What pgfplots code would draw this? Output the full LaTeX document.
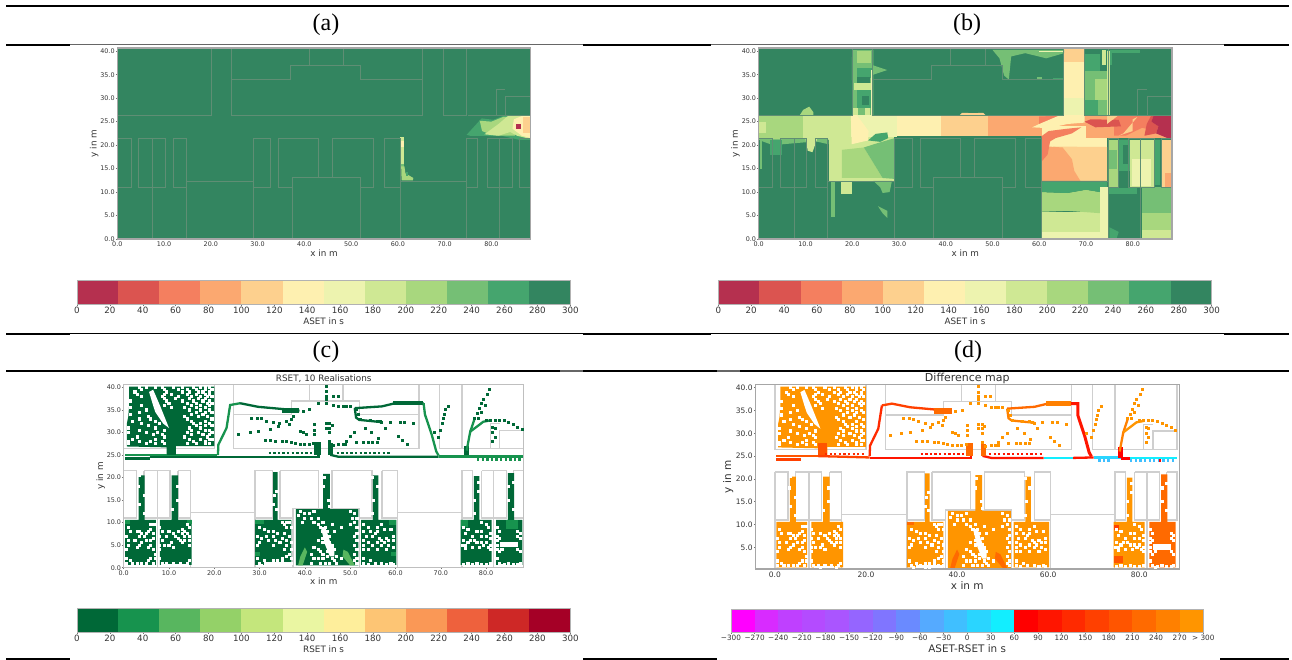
\documentclass[border=0pt]{standalone}
\usepackage{pgfplots}
\pgfplotsset{compat=1.18}
\usepackage{fontspec}
\setmainfont{DejaVu Sans}
\newfontfamily\timesf{Liberation Serif}
\definecolor{A1}{HTML}{B5304F}\definecolor{A2}{HTML}{DB5450}\definecolor{A3}{HTML}{F47F5F}\definecolor{A4}{HTML}{FBA870}
\definecolor{A5}{HTML}{FDD08E}\definecolor{A6}{HTML}{FEF0B0}\definecolor{A7}{HTML}{EDF3AF}\definecolor{A8}{HTML}{CFE894}
\definecolor{A9}{HTML}{A8D77E}\definecolor{A10}{HTML}{75BF75}\definecolor{A11}{HTML}{45A56E}\definecolor{A12}{HTML}{338560}
\definecolor{C1}{HTML}{006837}\definecolor{C2}{HTML}{17934E}\definecolor{C3}{HTML}{58B65F}\definecolor{C4}{HTML}{94D168}
\definecolor{C5}{HTML}{C4E67C}\definecolor{C6}{HTML}{EAF6A2}\definecolor{C7}{HTML}{FEEE9B}\definecolor{C8}{HTML}{FDC574}
\definecolor{C9}{HTML}{FA9856}\definecolor{C10}{HTML}{EE613D}\definecolor{C11}{HTML}{CE2826}\definecolor{C12}{HTML}{A50026}
\definecolor{D1}{HTML}{FF00FF}\definecolor{D2}{HTML}{D82BFF}\definecolor{D3}{HTML}{BF40FF}\definecolor{D4}{HTML}{B44BFF}
\definecolor{D5}{HTML}{AA55FF}\definecolor{D6}{HTML}{9565FF}\definecolor{D7}{HTML}{8075FF}\definecolor{D8}{HTML}{6A8AFF}
\definecolor{D9}{HTML}{55AAFF}\definecolor{D10}{HTML}{40BFFF}\definecolor{D11}{HTML}{2AD5FF}\definecolor{D12}{HTML}{12EEFF}
\definecolor{E1}{HTML}{FF0000}\definecolor{E2}{HTML}{FF1500}\definecolor{E3}{HTML}{FF2A00}\definecolor{E4}{HTML}{FF4000}
\definecolor{E5}{HTML}{FF5500}\definecolor{E6}{HTML}{FF6A00}\definecolor{E7}{HTML}{FF8000}\definecolor{E8}{HTML}{FF9500}
\definecolor{wallab}{HTML}{5F8E74}\definecolor{wallcd}{HTML}{CFCFCF}\definecolor{txt}{HTML}{333333}
\newcommand\Poly[2]{\addplot[fill=#1,draw=none,forget plot] coordinates {#2} --cycle;}
\newcommand\Rc[5]{\addplot[fill=#1,draw=none,forget plot] coordinates {(#2,#3)(#4,#3)(#4,#5)(#2,#5)} --cycle;}
\newcommand\Ln[3][2.3pt]{\addplot[draw=#2,line width=#1,no marks,forget plot] coordinates {#3};}
\newcommand\Ds[2]{\addplot[draw=#1,line width=2.3pt,dash pattern=on 2.3pt off 2.3pt,no marks,forget plot] coordinates {#2};}
\newcommand\Pts[2]{\edef\tmpplot{\noexpand\addplot[\unexpanded{#1}] coordinates {#2};}\tmpplot}
\def\walls{(0,0)(0,21.5)(nan,nan)(0,21.5)(2.9,21.5)(2.9,11)(0,11)(nan,nan)(4.5,21.5)(4.5,11)(10.2,11)(10.2,21.5)(4.5,21.5)(nan,nan)(7.5,21.5)(7.5,0)(nan,nan)
(12,21.5)(12,11)(14.7,11)(nan,nan)(12,21.5)(14.7,21.5)(14.7,0)(nan,nan)(14.7,12.2)(29,12.2)(nan,nan)(29,0)(29,21.5)(32.8,21.5)(32.8,11)(29,11)(nan,nan)
(34.5,21.5)(34.5,11)(37.4,11)(nan,nan)(37.4,0)(37.4,13.2)(52,13.2)(52,0)(nan,nan)(34.5,21.5)(43,21.5)(43,13.2)(nan,nan)(46,13.2)(46,21.5)(54.8,21.5)(54.8,11)(52,11)(nan,nan)
(57,21.5)(57,11)(60.5,11)(nan,nan)(57,21.5)(60.5,21.5)(60.5,0)(nan,nan)(60.5,12.2)(74.7,12.2)(nan,nan)(74.7,0)(74.7,21.5)(77,21.5)(77,11)(74.7,11)(nan,nan)
(79,21.5)(79,11)(84.5,11)(84.5,21.5)(79,21.5)(nan,nan)(81.7,21.5)(81.7,0)(nan,nan)(86,21.5)(86,11)(88.3,11)(88.3,21.5)(86,21.5)(nan,nan)
(0,40.7)(0,26.4)(20,26.4)(20,40.7)(nan,nan)(24.3,40.7)(24.3,26.4)(65.2,26.4)(65.2,40.7)(nan,nan)(24.3,34)(37,34)(37,37)(52,37)(52,34)(65.2,34)(nan,nan)
(41,37)(41,40.7)(nan,nan)(48.4,37)(48.4,40.7)(nan,nan)(69.7,40.7)(69.7,26.4)(74.7,26.4)(74.7,40.7)(nan,nan)(75,26.4)(88.3,26.4)(88.3,40.7)(nan,nan)
(81,26.4)(81,32)(83,32)(nan,nan)(83,26.4)(83,30.5)(88.3,30.5)}
% occupied upper rooms of the RSET map: cells that stayed empty
\def\holesU{(3.5,40)(5,40)(7,40)(8.5,40)(11,40)(13,40)(15.5,40)(17,40)(18,40)(19,40)(4,39.5)(9,39.5)(12,39.5)(14,39.5)(16,39.5)(18,39.5)(19.5,39.5)
(2.5,39)(9.5,39)(13,39)(14.5,39)(16.5,39)(17.5,39)(19,39)(3,38.5)(9,38.5)(10.5,38.5)(14,38.5)(16,38.5)(18,38.5)(19,38.5)
(4,38)(8.5,38)(12,38)(15,38)(17,38)(18.5,38)(19.5,38)(9,37.5)(11.5,37.5)(14.5,37.5)(16.5,37.5)(18,37.5)(1.5,37)(9.5,37)(13,37)(15.5,37)(17.5,37)(19,37)
(10,36.5)(14,36.5)(16,36.5)(18.5,36.5)(19.5,36.5)(4,36)(9,36)(15,36)(17,36)(19,36)(1.5,35.5)(10.5,35.5)(13.5,35.5)(16,35.5)(18,35.5)
(5,35)(14.5,35)(17,35)(19,35)(3.5,34.5)(16,34.5)(18,34.5)(19.5,34.5)(1.5,34)(15,34)(17.5,34)(5.5,33.5)(13.5,33.5)(16.5,33.5)(18.5,33.5)
(3.5,33)(6,33)(14,33)(19.5,33)(2,32.5)(7,32.5)(15,32.5)(18,32.5)(4,32)(8,32)(15.5,32)(17,32)(19,32)(5.5,31.5)(16,31.5)(18,31.5)(19.5,31.5)
(1,31)(7,31)(14.5,31)(17,31)(3.5,30.5)(9,30.5)(15,30.5)(18,30.5)(19,30.5)(1,30)(5,30)(7.5,30)(14,30)(16.5,30)(19.5,30)
(6.5,29.5)(8.5,29.5)(15,29.5)(17.5,29.5)(19,29.5)(3,29)(9,29)(13.5,29)(18.5,29)(2,28.5)(7,28.5)(14.5,28.5)(17,28.5)(19,28.5)(19.5,28.5)
(1,28)(3.5,28)(6,28)(8.5,28)(15.5,28)(18,28)(1,27.5)(5,27.5)(7,27.5)(9,27.5)(14,27.5)(16,27.5)(18,27.5)(19,27.5)}
\def\holesL{(6,9.5)(6.5,9.5)(7,9.5)(1,9)(1.5,8)(3,8)(3.5,8)(4,7.5)(3.5,7)(4.5,7)(5,7.5)(5.5,8)(6,8.5)(6.5,7.5)(6.5,6.5)(6,6)(5,6)(4,5.5)(2.5,6)(1,6)(1,5)(0.5,7)(0.5,4)(6,5)(5.5,4.5)(6.5,4)(7,3)(7,2)(6,2)(5.5,1.5)(6.5,1)(5,1)(4,1)(3,1)(2,1)(1.5,1.5)(0.5,2)(0.5,1)(3.5,5)(3,4.5)
(8,9)(8.5,8)(8,7)(8.5,6)(9.5,7)(10,8)(9,5)(8,5)(8,4)(11,7.5)(11.5,7)(12,6.5)(12.5,6)(13,5.5)(13.5,6)(13.5,7)(13.5,8)(14,7.5)(13,7.5)(14.5,7)(14.5,6)(14.5,5)(12,8)(13,8.5)(14.5,9)(14,9.5)(10,5)(10.5,5.5)(11,4.5)(8,2)(8.5,1)(9.5,1)(11,1)(12.5,1)(14,1)(14.5,1.5)(13.5,.5)(10,.5)
(35,10)(36,10)(36.5,10)(35.5,9.5)(36,9)(37,9)(30,9)(31,8.5)(32,8)(33,8)(31.5,7)(33,7)(34,7.5)(35.5,7.5)(36.5,7)(29.5,7)(30.5,6.5)(32,6)(33.5,6)(34.5,5.5)(33,5)(35,6.5)(36,6)(37,5.5)(36,5)(35.5,4)(37,4)(36.5,3)(36,2.5)(37,2)(29.5,5)(30,5.5)(29.5,2)(31,1.5)(33,1.5)(34,1.5)(35,1.5)(36,1)(32,1)(30,1)(34,.5)(33,.5)(30.5,.5)(37,1)(35,2)
(39,12.5)(40,12)(41,12)(42,12.5)(40,11)(41.5,11)(42,10)(39.5,10)(43,11)(43,9.5)(43.5,9)(44,10)(44.5,9)(44,8)(45,8)(45.5,7)(44.5,7)(44,6.5)(44,5.5)(45,6)(45.5,5.5)(46,5)(45,5)(46,4.5)(46.5,4)(45.5,4)(45,3.5)(43,4)(43.5,3.5)(44,3)(44,2)(45,2.5)(46,2)(46.5,1.5)(47,2.5)(43,2)(43.5,1)(44.5,1)(45.5,1)(47,1)(48,2)(43,6)(42,4.5)(41.5,3)(42,2)(41.5,1)(50,12.5)(51,12)(51.5,11)(50.5,11)(51,10)(51.5,9)(50,9.5)(48,9)(51.5,7.5)(51,7)(51.5,6)(51,5)(51.5,4)(51,3)(51.5,2)(51,1.5)(51.5,1)(46,9.5)(46.5,8)(38.5,11.5)
(53,9.5)(54,9)(56,9)(57,9.5)(53,8)(54.5,8)(55.5,7.5)(56,8)(57.5,8.5)(59,8.5)(53.5,7)(55,7)(56.5,6.5)(57,6)(58,6.5)(58.5,6)(57.5,5.5)(56,5.5)(57,5)(58.5,5)(53,6)(54,5.5)(53,5)(55,5)(59.5,7)(59.5,6)(59.5,4.5)(53,4)(54,4)(56,4)(58,4)(53,2)(53,1)(54,.7)(55.5,1)(57,1)(58,.7)(59,1)(59.5,.7)(54.5,1.5)
(79,10)(80,9.5)(80.5,9)(75,9)(76,8.5)(75.5,7.5)(78,8)(79,8)(81,7.5)(77,7)(79,7)(80,7)(81,6.5)(75,6)(76,5.5)(76.5,6)(77.5,6)(78,5.5)(79,5.5)(79.5,5)(80,5.5)(80.5,4.5)(81,5)(78.5,4.5)(75.5,5)(74.8,5)(76,1)(75,.7)(77,.7)(78,1)(79,.7)(80,.7)(81,1)(75.5,4.3)(81,4)(77,4.5)
(82.5,9)(83,8)(87,8)(87.5,7.5)(87,7)(87.5,6.5)(82.5,7)(82.5,6)(83,6.5)(82.5,5)(82.5,4)(83,3.5)(83.5,4)(87,4)(87.5,3.5)(87.5,1)(87,.7)(83,1)(83.5,.5)(85,1)(86,.7)(82.5,2)(84,.7)
(3.5,14)(4.5,12)(4.5,16)(3.3,18)(3.5,20.5)(10.7,13)(11.8,15)(11.8,18)(33.8,17)(33.2,16)(33,14)(33.8,13)(44,18)(44.3,20)(45.3,15)(45.5,13.5)(55,12)(55.2,15)(56,18)(55,20)(77.5,12)(77.5,15)(78.3,17)(78.3,19)(85,18)(85,15)(86,19)(86,13)}
% single occupied cells in the hall and the right-hand rooms
\def\cellsS{(28.3,33.2)(29.5,33.2)(30.5,33)(31.5,32.5)(33,32.2)(34.5,32)(36,32.4)(37,32.8)(37.5,33.5)(25.3,29.5)(27.9,29.9)(29.7,30.2)(32.3,30.6)(34.1,31.3)(36.7,31.8)
(31.2,28.2)(32.5,28.2)(33.5,28.1)(35,28)(36,27.9)(37,27.7)(38,27.5)(39,27.4)(40,27.3)(41,27.3)(42,27.5)(39,30.2)(39.7,29.9)(40.4,29.5)(39.7,34.7)(41.1,35)(43,36.5)(44.8,36.5)(46.3,36)(47.5,35.7)(48.5,35.7)(49.2,35.7)(50,35.7)
(44.7,40.2)(44.7,39)(44.7,38)(44.7,37.3)(46.3,38.1)(47.4,38)(42.2,31.7)(42.2,30.5)(42.2,29.5)(45.5,32)(45.5,31)(45.5,30)(46,31.5)(44.8,32)(44.8,31)(45.5,28)(48.5,27.3)(49.2,28)(50,29.1)(51,30)(46.3,27.2)(47.5,27.3)(49,27.4)(51.4,27.8)(53,27.8)(54,27.8)(55,27.8)(56,27.8)
(52.2,32.8)(54.4,32.6)(56,32.5)(56.6,32.4)(57,32.2)(58.8,32.3)(61,32.3)(62,32.3)(64,31.9)(51.4,35)(51.8,34)(53.3,31)(54.7,29.9)(56.2,28.7)(57.7,31)(60.6,29.1)(61.5,28.3)(62.6,27.3)
(68.5,30)(69.5,29)(70,30.5)(70.3,32)(70.6,33)(70.8,34)(71,35)(71.7,35.8)(77.5,33.2)(78,34.2)(78.5,35.3)(79,36.5)(79.5,37.4)(80.2,38.5)(80.7,39.5)(78.3,33.2)(79,34.5)(79.8,36)
(80,32.7)(81,32.7)(82,32.7)(83,32.7)(84,32.6)(85,32.2)(86,31.7)(87,31.2)(88,30.6)(81.5,31.2)(81.5,30)(82,29)(81.5,28)(82,31)}
% shared occupied rooms of (c) and (d): #1 main colour, #2 room 7
\newcommand\CDmain[2]{%
\Pts{draw=wallcd,line width=1.3pt,no marks,forget plot}{\walls}
\Poly{#1}{(1.2,40.2)(20,40.2)(20,27)(11.5,27)(11.5,25)(9.5,25)(9.5,26.7)(0.7,26.9)(0.7,32)(1,33.5)(1.2,36)}
\Poly{white}{(5.6,39)(6.5,39.5)(8,36)(8.8,34)(10,31)(8.7,32)(7,34.5)(6.5,36)}
\Poly{#1}{(0.3,.6)(7.1,.6)(7.1,10.6)(4.6,10.6)(4.6,20.5)(3.3,20.5)(3.3,10.6)(0.3,10.6)}
\Poly{#1}{(8,.6)(15,.6)(15,10.6)(12,10.6)(12,20.5)(10.6,20.5)(10.6,10.6)(8,10.6)}
\Poly{#1}{(29,.6)(37,.6)(37,10.6)(34,10.6)(34,21.2)(33,21.2)(33,10.6)(29,10.6)}
\Poly{#1}{(38,.5)(51.8,.5)(51.8,13)(45.5,13)(45.5,20.8)(44,20.8)(44,13)(38,13)}
\Poly{#1}{(52.4,.6)(60.2,.6)(60.2,10.6)(56.2,10.6)(56.2,20.5)(55,20.5)(55,10.6)(52.4,10.6)}
\Poly{#1}{(74.4,.6)(81.2,.6)(81.2,10.6)(78.5,10.6)(78.5,20.3)(77.3,20.3)(77.3,10.6)(74.4,10.6)}
\Poly{#2}{(82.2,.6)(88,.6)(88,10.6)(86.2,10.6)(86.2,21)(84.8,21)(84.8,10.6)(82.2,10.6)}
\Rc{white}{31}{.4}{37}{1.2}
\Rc{white}{83}{4.5}{87}{5.8}
\Rc{white}{8.5}{.4}{13}{.9}
\Poly{white}{(43.5,9)(44.5,9)(45.5,6)(46.5,4)(46.5,2.5)(45.5,2.5)(44.5,5)(44,7)}
\Pts{only marks,mark=square*,mark size=1.05pt,mark options={draw=white,fill=white,line width=0pt},forget plot}{\holesU}
\Pts{only marks,mark=square*,mark size=1.05pt,mark options={draw=white,fill=white,line width=0pt},forget plot}{\holesL}
\Pts{only marks,mark=square*,mark size=1pt,mark options={draw=#1,fill=#1,line width=0pt},forget plot}{\cellsS}
}
\begin{document}
\begin{tikzpicture}[x=1pt,y=1pt]
\useasboundingbox (0,0) rectangle (1292,660);
\pgfplotsset{
 every axis title shift=0pt,
 every axis/.append style={unbounded coords=jump,axis on top,scale only axis,anchor=south west,clip=true,
  tick align=outside,xtick pos=bottom,ytick pos=left,/pgf/number format/assume math mode=true,
  every tick/.style={draw=black!55,line width=.5pt},major tick length=1.5pt,
  tick label style={text=txt,inner sep=1pt}},
 heat/.style={axis line style={draw=#1,line width=1.2pt},xmin=0,ymin=0,ymax=40.7,
  xtick={0,10,...,80},xticklabels={0.0,10.0,20.0,30.0,40.0,50.0,60.0,70.0,80.0},
  ytick={0,5,...,40},yticklabels={0.0,5.0,10.0,15.0,20.0,25.0,30.0,35.0,40.0},
  tick label style={font=\fontsize{6.4}{7}\selectfont},
  xlabel={x in m},ylabel={y in m},label style={font=\fontsize{8.8}{10}\selectfont,text=txt}},
 cbar/.style={xmin=#1,ymin=0,ymax=1,ytick=\empty,axis line style={draw=black!30,line width=.8pt},
  tick label style={font=\fontsize{8.7}{10}\selectfont},xlabel style={font=\fontsize{8.8}{10}\selectfont,text=txt,at={(axis description cs:0.5,-0.7)},anchor=center}}
}
% ---- rules
\foreach \xa/\xb/\yy/\ww/\cc in {6/1289/654/2/black,6/70/615.4/2/black,70/583/615.4/1/black!60,583/711/615.4/2/black,711/1224/615.4/1/black!60,1224/1289/615.4/2/black,
 6/70/326/2/black,70/583/326/1/black,583/711/326/2/black,711/1224/326/1/black,1224/1289/326/2/black,6/560/288.5/2/black,560/583/288.5/2/black!60,583/717/288.5/2/black,717/740/288.5/2/black!60,740/1289/288.5/2/black,
 6/70/1/1.2/black,583/717/1/1.2/black,1220/1289/1/1.2/black}
 {\draw[\cc,line width=\ww pt] (\xa,\yy)--(\xb,\yy);}
\node[font=\timesf\fontsize{24}{26}\selectfont] at (326,635) {(a)};
\node[font=\timesf\fontsize{24}{26}\selectfont] at (967,635) {(b)};
\node[font=\timesf\fontsize{24}{26}\selectfont] at (326,308) {(c)};
\node[font=\timesf\fontsize{24}{26}\selectfont] at (968,308) {(d)};
% ---- (a)
\begin{axis}[at={(117.3pt,421pt)},width=413.4pt,height=191pt,heat=black!35,xmax=88.4,
 xlabel style={at={(axis description cs:0.5,-0.073)},anchor=center},ylabel style={at={(axis description cs:-0.056,0.5)},anchor=center}]
\Rc{A12}{0}{0}{88.4}{40.7}
\Poly{A11}{(74.7,22.2)(77.9,25.7)(80.4,25.4)(82.5,26.2)(88.4,26.2)(88.4,21.1)(86.1,21.1)(82.5,21.9)(75.4,22)}
\Poly{A9}{(78,23)(77.5,25.2)(80,25)(82.5,26)(85,26)(85,22)(82,22)(80,22.2)}
\Poly{A8}{(78.5,22.3)(81.5,24.5)(83.5,26.2)(88.4,26.2)(88.4,21.3)(85.5,22)(84,22.8)(81.5,22)}
\Poly{A6}{(84.5,23.5)(84.8,25.5)(86.5,26.2)(88.4,26.2)(88.4,21.5)(86.5,22)}
\Rc{A5}{86.8}{22.5}{88.4}{26}
\Rc{A1}{85.2}{23.4}{86.3}{24.4}
\Rc{A10}{60.5}{15}{61.4}{21.8}
\Rc{A8}{60.5}{16}{61.3}{21.7}
\Rc{A6}{60.6}{19.5}{61.2}{20.8}
\Poly{A9}{(60.7,15.5)(61.4,15.5)(61.6,14)(63.3,13)(63.2,12.5)(60.8,12.5)}
\Rc{A11}{61.8}{13.5}{62.2}{14.2}
\Pts{draw=wallab,line width=.5pt,no marks,forget plot}{\walls}
\end{axis}
% ---- (b)
\begin{axis}[at={(758.7pt,421pt)},width=413.3pt,height=191pt,heat=black!35,xmax=88.4,
 xlabel style={at={(axis description cs:0.5,-0.073)},anchor=center},ylabel style={at={(axis description cs:-0.056,0.5)},anchor=center}]
\Rc{A12}{0}{0}{88.4}{40.7}
\Poly{A10}{(20,40.3)(24.5,40.3)(24.5,37)(27.5,36)(24.5,35)(24.5,26.4)(20,26.4)(20,31)(19.9,37)}
\Rc{A9}{21}{37.5}{24}{40}
\Rc{A11}{21}{34.3}{24.5}{36.4}
\Rc{A12}{21}{33.3}{23.9}{34.6}
\Rc{A8}{20.3}{31.8}{24.2}{33.2}
\Rc{A8}{20}{26.4}{21.2}{28}
\Rc{A8}{22.8}{26.4}{23.9}{28}
\Rc{A11}{21}{28}{24}{31.8}
\Rc{A12}{22}{28.5}{23.5}{30.5}
\Rc{A7}{24}{26.4}{24.5}{36}
\Poly{A9}{(8.8,26.4)(9.5,27.5)(10.8,28.2)(11.7,27)(11.7,26.4)}
\Poly{A9}{(0,26.4)(9.5,26.4)(9.5,21.2)(0,21.2)}
\Rc{A8}{0}{22.5}{1.6}{25}
\Rc{A8}{9.5}{21}{19.7}{26.4}
\Rc{A7}{19.7}{21.8}{29.5}{26.4}
\Rc{A6}{29.5}{21.9}{39}{26.4}
\Rc{A5}{39}{21.9}{49}{26.4}
\Rc{A4}{49}{21.9}{60.5}{26.4}
\Poly{A5}{(43,26.4)(43.5,26.9)(46,26.8)(48,26.9)(48.5,26.4)}
\Rc{A8}{15}{12.4}{29}{21.8}
\Poly{A9}{(17.8,19)(22.5,19.5)(26.5,13)(17.8,13)}
\Poly{A10}{(22.5,19.5)(26.5,13)(29.1,12.8)(29.1,21.5)(25,20.3)}
\Poly{A6}{(19.7,26.4)(21,26.4)(23.5,23)(23.4,21)(19.9,20.2)}
\Poly{A11}{(23.4,21)(25,22.4)(27.5,22.7)(27.7,21.5)(26,20.7)}
\Rc{A8}{17.6}{9.5}{20}{12.4}
\Poly{A10}{(24.5,12.4)(28.5,12.4)(28,10)(26.5,9.8)(26,11)}
\Rc{A10}{15.5}{4.7}{16.4}{12.4}
\Poly{A10}{(25.5,7)(27.5,6)(27.5,4.5)(26.5,5.5)}
\Poly{A10}{(0,21.3)(14.9,21.3)(14.9,20.2)(12.2,20.8)(3,20)(0.3,21)}
\Rc{A11}{2.5}{18}{5}{21}
\Poly{A8}{(10,21.3)(12.5,21.3)(11.5,18.5)(10.5,18.8)}
\Rc{A10}{0.2}{15}{0.8}{21}
% corridor, right half
\Rc{A4}{60.5}{21.6}{88.4}{26.4}
\Poly{A3}{(60,24.4)(60,26.1)(65,26.3)(65,24.8)}
\Rc{A6}{60.5}{12.4}{74.5}{24}
\Poly{A6}{(64.5,26.4)(69.7,26.4)(69.7,24.8)(66,24.5)(62,23.6)(58.5,23.8)(60,24.5)}
\Poly{A5}{(63,19.7)(74.5,19.6)(74.5,12.4)(60.5,12.4)}
\Poly{A4}{(60.5,21.5)(62,19.7)(65,19.5)(67,17)(67.5,14.5)(68.8,12.4)(60.5,12.4)}
\Poly{A3}{(60.5,21.9)(62.5,21.7)(61.8,18)(60.5,16.5)}
\Poly{A3}{(60.5,21.9)(62,23)(66,23.5)(69,23.8)(67,22.5)(63.5,21.5)(61,20)}
\Rc{A4}{70}{21.6}{88.4}{26.4}
\Poly{A3}{(76,26.4)(85,26.4)(85,23)(82,23.7)(78.5,22)(76,22)}
\Poly{A2}{(69.7,25)(71,25.5)(77,25.4)(77.5,24)(72,23.8)}
\Poly{A5}{(74.5,26.4)(77,26.4)(75,24.9)(74.5,24.5)}
\Poly{A5}{(77,22)(80,23)(80,25.5)(81,26)(78,22.5)}
\Poly{A2}{(84,26.4)(84.5,26.4)(84,25)(85.5,24)(85,22.5)(82.5,22)(83,24.5)}
\Poly{A1}{(84.5,26.4)(88.4,26.4)(88.4,21.1)(85,22.5)(85.5,24)(84,25)}
% right rooms
\Rc{A9}{74.7}{11}{77}{21.2}
\Rc{A10}{75}{15}{76.6}{19}
\Rc{A11}{77}{14.5}{79.5}{21}
\Rc{A12}{78}{16}{79.3}{20}
\Rc{A8}{79.5}{11}{84.7}{21.2}
\Rc{A7}{79.8}{11.2}{84}{17}
\Rc{A11}{84.7}{11.5}{85.8}{21}
\Rc{A5}{86.3}{11}{88.4}{21.2}
\Rc{A4}{87}{11}{88.4}{14}
% rooms at the bottom
\Rc{A8}{60.5}{1.5}{73.5}{5.8}
\Rc{A7}{60.5}{0}{73.5}{1.5}
\Poly{A9}{(60.5,10)(66,9.8)(70,10.5)(73,10)(73,5.5)(66,6)(60.5,5.8)}
\Poly{A11}{(60.5,12.4)(74.5,12.4)(74.5,11)(73,10)(70,10.5)(66,9.8)(60.5,10)}
\Rc{A7}{73}{0}{74.7}{11}
\Poly{A11}{(75,0)(76.5,0)(77,1.5)(75,2.5)}
\Rc{A11}{75}{9.6}{81}{10.8}
\Rc{A10}{82}{5.5}{88.4}{11}
\Rc{A9}{82}{2}{88.4}{5.5}
\Rc{A8}{82}{0}{88.4}{2}
% hall column and top strips
\Rc{A11}{69.7}{35.7}{73}{39.5}
\Rc{A10}{69.7}{29.6}{74.4}{35.7}
\Rc{A9}{72}{29.6}{74.4}{34}
\Rc{A11}{69.7}{26.4}{72.6}{29.6}
\Rc{A10}{72.6}{26.4}{74.7}{29.6}
\Rc{A8}{73.5}{37}{74.3}{40.3}
\Rc{A11}{74.6}{37}{75.5}{40.3}
\Rc{A8}{74.6}{26.4}{75.2}{40}
\Rc{A6}{65.3}{26.4}{69.7}{38}
\Rc{A7}{65.3}{26.4}{69.7}{30}
\Rc{A5}{65.3}{37.8}{69.8}{40.4}
\Poly{A10}{(50,40.3)(65.3,40.3)(65.3,39.6)(61.5,38.5)(57,39.6)(54,38.9)(53.5,34)(52.5,34.8)(51.5,38.5)}
\Rc{A10}{59.5}{33.8}{60.5}{34.5}
\Rc{A11}{63}{33.8}{65}{34.2}
\Rc{A7}{60}{39.8}{65}{40.1}
\Rc{A11}{75.5}{39.6}{81.5}{40.3}
\Pts{draw=wallab,line width=.5pt,no marks,forget plot}{\walls}
\end{axis}
% ---- (c)
\begin{axis}[at={(123.7pt,92.3pt)},width=400pt,height=183.4pt,heat=black!25,xmax=88.3,
 title={RSET, 10 Realisations},title style={font=\fontsize{8.85}{10}\selectfont,text=txt,at={(axis description cs:0.5,1.029)},anchor=center},
 xlabel style={at={(axis description cs:0.5,-0.076)},anchor=center},ylabel style={at={(axis description cs:-0.0575,0.5)},anchor=center}]
\CDmain{C1}{C1}
\Poly{C3}{(38.5,.5)(39.5,.5)(40.5,3.5)(40,4.5)(39,2.5)}
\Poly{C3}{(48.5,4)(49.5,3.5)(51,.5)(50,.5)(48.3,2.5)}
\Rc{C2}{.3}{9.8}{1.5}{10.6}\Rc{C2}{29}{9.8}{31}{10.6}\Rc{C2}{58.5}{9.5}{60.2}{10.6}\Rc{C2}{14}{9.8}{15}{10.6}\Rc{C2}{84.5}{8.5}{87}{10.6}\Rc{C2}{74.5}{9}{76}{10.6}\Rc{C2}{29}{2.5}{30}{3.5}\Rc{C2}{59}{2.5}{60}{3.5}
\Ln{C2}{(0.3,25)(20.5,25)}
\Ln[3pt]{C1}{(0.3,24.2)(5.7,24.2)}
\Ln{C1}{(5.7,24.6)(20.8,24.6)(43,24.6)(43,27.5)}
\Ln{C1}{(45.8,27.5)(45.8,25)(47.5,24.6)(69.5,24.6)}
\Ln{C2}{(69.5,24.7)(88.3,24.7)}
\Ds{C1}{(32,25.4)(42,25.4)}
\Ds{C1}{(47,25.4)(59,25.4)}
\Ds{C2}{(78,24)(88,24)}
\Ln{C2}{(20.8,25)(20.9,27.3)(22.7,31)(23.5,36.1)(25.7,36.5)}
\Ln{C1}{(25.7,36.5)(29.7,35.7)(35.2,35.2)(38.8,34.8)}
\Rc{C1}{35}{34.3}{38.8}{35.5}
\Ln{C1}{(51,35.4)(57,35.8)(59.5,36.4)(66.2,36.5)}
\Rc{C1}{59.5}{36}{66}{37}
\Ln{C2}{(66.2,36.5)(66.5,34)(68,29.5)(69,25.8)(69.5,24.9)}
\Ln{C1}{(51,35.4)(51.3,33.3)(52,32.8)(57,32.3)}
\Rc{C1}{75.2}{25}{76.2}{27}
\Ln{C2}{(75.7,26)(76.5,30.2)(77.5,33.2)}
\Ln{C2}{(76.5,30.2)(79.4,32.4)(81,32.7)}
\Rc{C1}{42}{25}{43.5}{27.8}
\Rc{C1}{45.2}{25}{46.3}{27.6}
\Rc{C1}{9.5}{25}{11.5}{27.8}
\end{axis}
% ---- (d)
\begin{axis}[at={(755.3pt,91pt)},width=424pt,height=184.3pt,axis line style={draw=black!35,line width=1.2pt},
 xmin=-4.3,xmax=88.8,ymin=.25,ymax=40.65,xtick={0,20,40,60,80},xticklabels={0.0,20.0,40.0,60.0,80.0},
 ytick={5,10,...,40},yticklabels={5.0,10.0,15.0,20.0,25.0,30.0,35.0,40.0},
 tick label style={font=\fontsize{7.5}{8}\selectfont},
 xlabel={x in m},ylabel={y in m},label style={font=\fontsize{10.5}{12}\selectfont,text=txt},
 title={Difference map},title style={font=\fontsize{11}{12}\selectfont,text=txt,at={(axis description cs:0.5,1.036)},anchor=center},
 xlabel style={at={(axis description cs:0.5,-0.09)},anchor=center},ylabel style={at={(axis description cs:-0.064,0.5)},anchor=center}]
\CDmain{E8}{E6}
\Poly{E6}{(38.5,.5)(39.5,.5)(40.5,3.5)(40,4.5)(39,2.5)}
\Poly{E6}{(48.5,4)(49.5,3.5)(51,.5)(50,.5)(48.3,2.5)}
\Rc{E4}{74.5}{8.7}{75.5}{10}
\Rc{E5}{74.5}{1.5}{76.5}{3}
\Rc{E6}{29}{9.8}{30.5}{10.6}
\Rc{E5}{9.5}{25}{11.5}{27.8}
\Ln{E5}{(0.3,25)(9.5,25)}
\Ln[3pt]{E4}{(0.3,24.2)(5.7,24.2)}
\Ln{E4}{(9.5,25)(20.8,24.7)}
\Ln{E2}{(20.8,24.6)(43,24.6)(43,27.5)}
\Ln{E2}{(45.8,27.5)(45.8,25)(47.5,24.6)(59,24.6)}
\Ln{D12}{(59,24.6)(65.5,24.6)}
\Ln{E2}{(65.5,24.6)(70,24.7)}
\Ln{D11}{(70,24.7)(76,24.7)}
\Rc{E1}{75.3}{24.5}{76.5}{27}
\Ln{E1}{(76,24.5)(78,24.5)}
\Ln{D12}{(78,24.6)(88.3,24.6)}
\Ds{E3}{(11,25.4)(20,25.4)}
\Ds{E2}{(32,25.4)(42,25.4)}
\Ds{E2}{(47,25.4)(59,25.4)}
\Ds{D10}{(71,24)(74,24)}
\Ds{D10}{(78,24)(88,24)}
\Rc{E1}{84.3}{23.8}{84.8}{24.3}
\Ln{E3}{(20.8,25)(20.9,27.3)(22.7,31)(23.5,36.1)}
\Ln{E4}{(23.5,36.1)(25.7,36.5)(29.7,35.7)(35.2,35.2)(38.8,34.8)}
\Rc{E6}{35}{34.3}{38.8}{35.5}
\Ln{E6}{(51,35.4)(57,35.8)(59.5,36.4)(65,36.5)}
\Rc{E7}{59.5}{36}{65}{37}
\Ln[3pt]{E2}{(65,36.5)(66.5,36.5)(66.5,34)(68,29.5)(69,25.8)(69.5,24.9)}
\Ln{E7}{(51,35.4)(51.3,33.3)(52,32.8)(57,32.3)}
\Ln{E7}{(75.7,26)(76.5,30.2)(77.5,33.2)}
\Ln{E8}{(76.5,30.2)(79.4,32.4)(81,32.7)}
\Rc{E6}{42}{25}{43.5}{27.8}
\Rc{E6}{45.2}{25}{46.3}{27.6}
\end{axis}
% ---- colour bars
\begin{axis}[at={(77pt,355.3pt)},width=493.3pt,height=24pt,cbar=0,xmax=300,xtick={0,20,...,300},xlabel={ASET in s}]
\Rc{A1}{0}{0}{25}{1}\Rc{A2}{25}{0}{50}{1}\Rc{A3}{50}{0}{75}{1}\Rc{A4}{75}{0}{100}{1}\Rc{A5}{100}{0}{125}{1}\Rc{A6}{125}{0}{150}{1}
\Rc{A7}{150}{0}{175}{1}\Rc{A8}{175}{0}{200}{1}\Rc{A9}{200}{0}{225}{1}\Rc{A10}{225}{0}{250}{1}\Rc{A11}{250}{0}{275}{1}\Rc{A12}{275}{0}{300}{1}
\end{axis}
\begin{axis}[at={(718.3pt,355.3pt)},width=493.4pt,height=24pt,cbar=0,xmax=300,xtick={0,20,...,300},xlabel={ASET in s}]
\Rc{A1}{0}{0}{25}{1}\Rc{A2}{25}{0}{50}{1}\Rc{A3}{50}{0}{75}{1}\Rc{A4}{75}{0}{100}{1}\Rc{A5}{100}{0}{125}{1}\Rc{A6}{125}{0}{150}{1}
\Rc{A7}{150}{0}{175}{1}\Rc{A8}{175}{0}{200}{1}\Rc{A9}{200}{0}{225}{1}\Rc{A10}{225}{0}{250}{1}\Rc{A11}{250}{0}{275}{1}\Rc{A12}{275}{0}{300}{1}
\end{axis}
\begin{axis}[at={(77pt,27.7pt)},width=493.3pt,height=24.3pt,cbar=0,xmax=300,xtick={0,20,...,300},xlabel={RSET in s}]
\Rc{C1}{0}{0}{25}{1}\Rc{C2}{25}{0}{50}{1}\Rc{C3}{50}{0}{75}{1}\Rc{C4}{75}{0}{100}{1}\Rc{C5}{100}{0}{125}{1}\Rc{C6}{125}{0}{150}{1}
\Rc{C7}{150}{0}{175}{1}\Rc{C8}{175}{0}{200}{1}\Rc{C9}{200}{0}{225}{1}\Rc{C10}{225}{0}{250}{1}\Rc{C11}{250}{0}{275}{1}\Rc{C12}{275}{0}{300}{1}
\end{axis}
\begin{axis}[at={(731pt,27.7pt)},width=472.3pt,height=23.3pt,cbar=-300,xmax=300,xtick={-300,-270,...,300},
 xticklabels={−300,−270,−240,−210,−180,−150,−120,−90,−60,−30,0,30,60,90,120,150,180,210,240,270,> 300},
 tick label style={font=\fontsize{7.3}{8}\selectfont},xlabel={ASET-RSET in s},
 xlabel style={font=\fontsize{10.4}{12}\selectfont,at={(axis description cs:0.5,-0.72)}}]
\Rc{D1}{-300}{0}{-270}{1}\Rc{D2}{-270}{0}{-240}{1}\Rc{D3}{-240}{0}{-210}{1}\Rc{D4}{-210}{0}{-180}{1}\Rc{D5}{-180}{0}{-150}{1}\Rc{D6}{-150}{0}{-120}{1}
\Rc{D7}{-120}{0}{-90}{1}\Rc{D8}{-90}{0}{-60}{1}\Rc{D9}{-60}{0}{-30}{1}\Rc{D10}{-30}{0}{0}{1}\Rc{D11}{0}{0}{30}{1}\Rc{D12}{30}{0}{60}{1}
\Rc{E1}{60}{0}{90}{1}\Rc{E2}{90}{0}{120}{1}\Rc{E3}{120}{0}{150}{1}\Rc{E4}{150}{0}{180}{1}\Rc{E5}{180}{0}{210}{1}\Rc{E6}{210}{0}{240}{1}\Rc{E7}{240}{0}{270}{1}\Rc{E8}{270}{0}{300}{1}
\end{axis}
\end{tikzpicture}
\end{document}
